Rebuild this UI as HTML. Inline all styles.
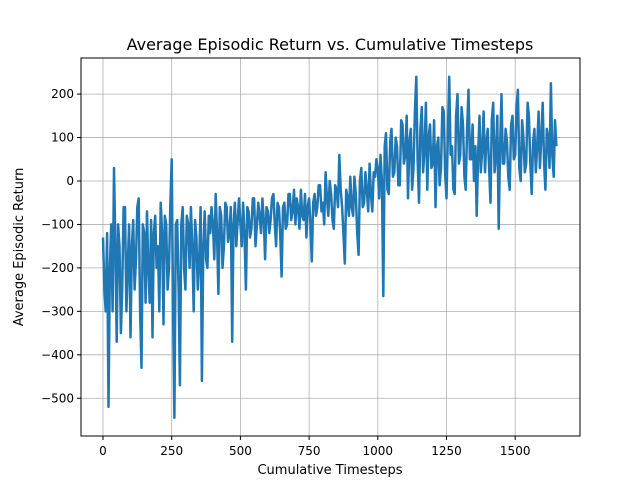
<!DOCTYPE html>
<html><head><meta charset="utf-8"><style>
body{margin:0;background:#fff;}
svg{display:block;font-family:"DejaVu Sans","Liberation Sans",sans-serif;}
</style></head><body>
<svg id="chart" width="644" height="488">
<rect width="644" height="488" fill="#fff"/>
<text x="330" y="50" font-size="16" text-anchor="middle">Average Episodic Return vs. Cumulative Timesteps</text>
<g id="grid"></g>
<g id="series"></g>
<rect x="81" y="58" width="499" height="378" fill="none" stroke="#000" stroke-width="1"/>
<g id="ticks" font-size="12"></g>
<text x="330" y="474" font-size="13" text-anchor="middle">Cumulative Timesteps</text>
<text transform="translate(23,247) rotate(-90)" font-size="13" text-anchor="middle">Average Episodic Return</text>
</svg>
<script>
const xTicks = [0,250,500,750,1000,1250,1500];
const yTicks = [200,100,0,-100,-200,-300,-400,-500];
const xStep = 5;
const returns = [
-130,-250,-300,-120,-520,-200,-100,-300,30,-150,-370,-100,-150,-350,-250,-60,-60,-300,-200,-100,
-360,-150,-90,-250,-180,-60,-40,-300,-430,-100,-120,-280,-70,-200,-280,-90,-360,-120,-80,-200,
-150,-300,-50,-120,-330,-80,-100,-250,-200,-60,50,-300,-545,-100,-90,-250,-470,-100,-60,-200,
-250,-80,-100,-200,-60,-150,-300,-90,-130,-250,-180,-60,-460,-150,-70,-180,-200,-80,-120,-60,
-100,-180,-30,-120,-260,-60,-80,-200,-150,-50,-60,-140,-120,-60,-370,-100,-50,-150,-90,-40,
-100,-150,-50,-120,-250,-60,-70,-130,-110,-40,-40,-150,-100,-50,-80,-120,-40,-90,-180,-60,
-70,-120,-90,-40,-30,-100,-150,-50,-60,-120,-220,-60,-50,-110,-100,-30,-30,-90,-70,-20,
-100,-40,-60,-110,-20,-80,-90,-30,-130,-60,-40,-100,-185,-50,-30,-80,-60,-10,-10,-70,
-50,-100,20,-40,-80,0,-30,-90,-110,-10,-20,-60,60,-20,-60,-120,-190,-20,-40,-80,
10,-60,-80,10,-30,-120,-170,0,30,-60,-50,20,-20,-70,40,-30,-70,20,10,50,
30,-40,60,0,-265,80,110,-20,-30,90,120,10,20,100,80,-10,-10,140,130,40,
60,150,-40,90,120,-20,30,160,240,50,-50,120,170,20,70,180,-20,100,130,30,
40,140,-60,80,100,-10,30,170,160,20,-40,110,240,60,80,-20,-30,150,200,40,
60,170,130,10,-20,120,210,50,50,130,0,80,-80,60,150,20,70,160,20,90,
120,30,-50,140,180,20,60,150,-110,80,200,40,40,120,90,10,-20,130,150,50,
60,170,210,30,0,140,100,20,40,180,150,40,-30,90,120,20,80,160,30,100,
180,40,-20,120,100,30,225,60,10,140,80
];
const NS="http://www.w3.org/2000/svg";
const xs = v => 103 + v*(68.7/250);
const ys = v => 181 - v*0.4345;
const grid=document.getElementById('grid'), ticks=document.getElementById('ticks'), series=document.getElementById('series');
xTicks.forEach(t=>{
  const x=xs(t);
  const l=document.createElementNS(NS,'line');
  l.setAttribute('x1',x);l.setAttribute('x2',x);l.setAttribute('y1',58);l.setAttribute('y2',436);
  l.setAttribute('stroke','#b0b0b0');l.setAttribute('stroke-width','0.8');
  
  
  grid.appendChild(l);
  const tk=document.createElementNS(NS,'line');
  tk.setAttribute('x1',x);tk.setAttribute('x2',x);tk.setAttribute('y1',436);tk.setAttribute('y2',440);tk.setAttribute('stroke','#000');
  
  
  ticks.appendChild(tk);
  const tx=document.createElementNS(NS,'text');
  tx.setAttribute('x',x);tx.setAttribute('y',455);tx.setAttribute('text-anchor','middle');tx.textContent=t;
  
  
  ticks.appendChild(tx);
});
yTicks.forEach(t=>{
  const y=ys(t);
  const l=document.createElementNS(NS,'line');
  l.setAttribute('x1',81);l.setAttribute('x2',580);l.setAttribute('y1',y);l.setAttribute('y2',y);
  l.setAttribute('stroke','#b0b0b0');l.setAttribute('stroke-width','0.8');
  
  
  grid.appendChild(l);
  const tk=document.createElementNS(NS,'line');
  tk.setAttribute('x1',77);tk.setAttribute('x2',81);tk.setAttribute('y1',y);tk.setAttribute('y2',y);tk.setAttribute('stroke','#000');
  
  
  ticks.appendChild(tk);
  const tx=document.createElementNS(NS,'text');
  tx.setAttribute('x',74);tx.setAttribute('y',y+4);tx.setAttribute('text-anchor','end');tx.textContent=(t<0?'\u2212'+(-t):t);
  
  
  ticks.appendChild(tx);
});
const pts=returns.map((v,i)=>xs(i*xStep).toFixed(1)+','+ys(v).toFixed(1)).join(' ');
const pl=document.createElementNS(NS,'polyline');
pl.setAttribute('points',pts);pl.setAttribute('fill','none');pl.setAttribute('stroke','#1f77b4');
pl.setAttribute('stroke-width','2.5');pl.setAttribute('stroke-linejoin','round');


series.appendChild(pl);
</script>
</body></html>
